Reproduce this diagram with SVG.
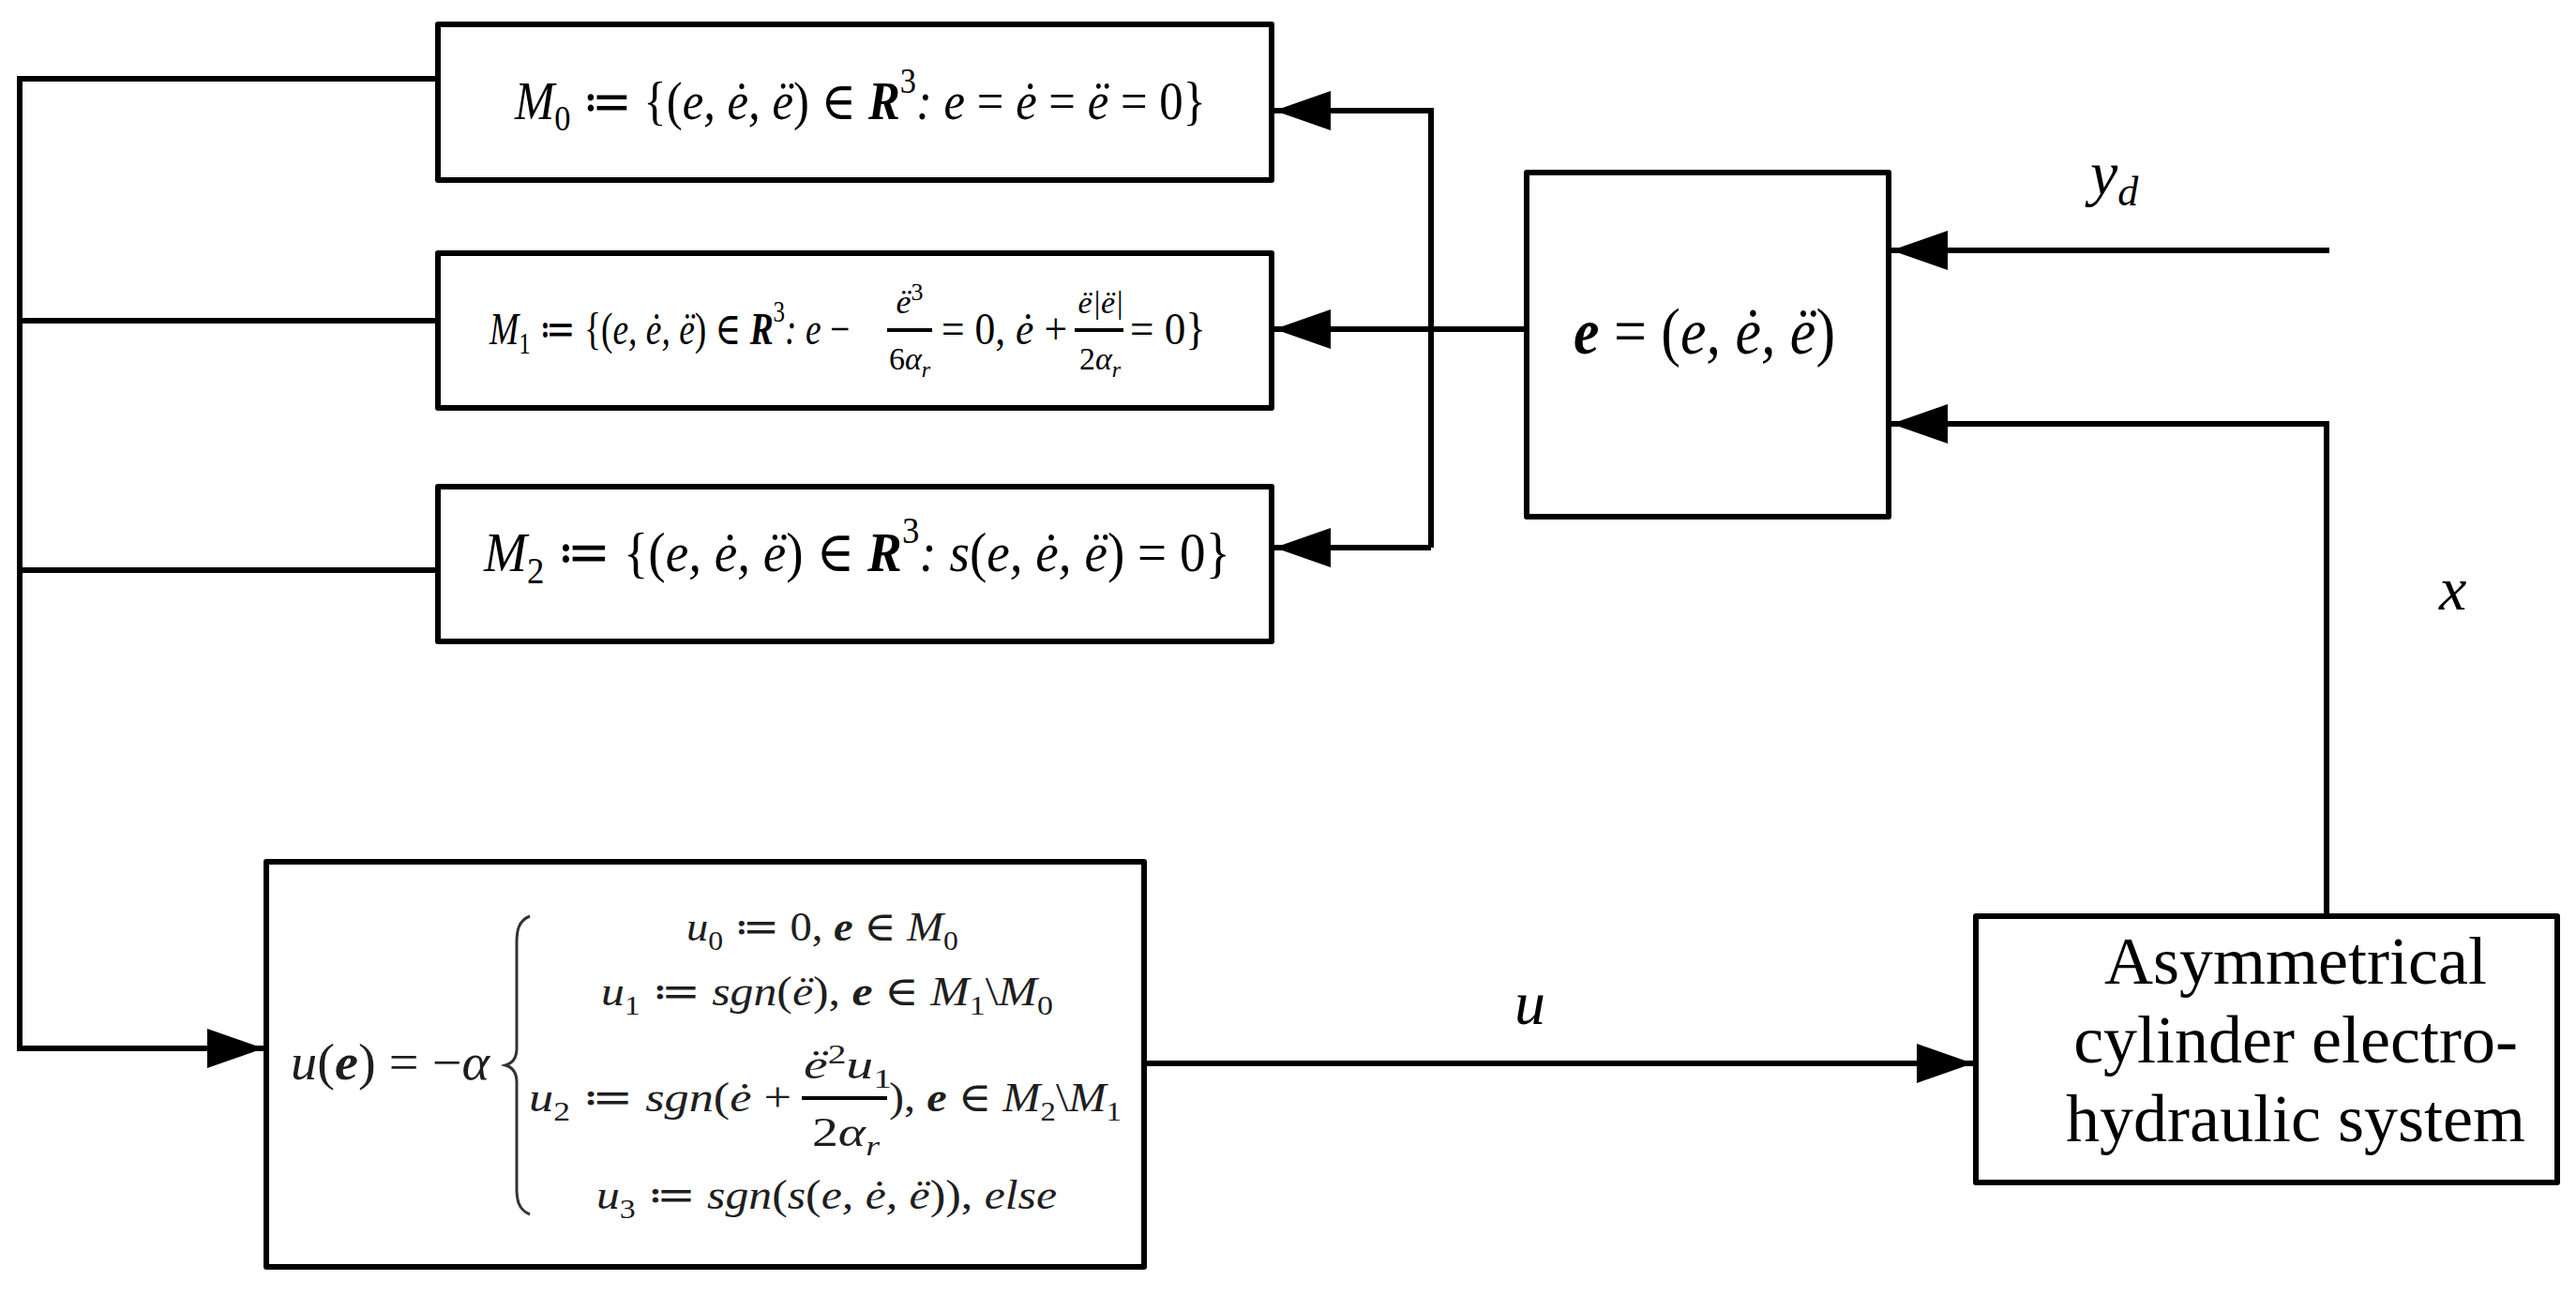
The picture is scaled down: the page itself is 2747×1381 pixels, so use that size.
<svg xmlns="http://www.w3.org/2000/svg" width="2747" height="1381" viewBox="0 0 2747 1381">
<defs>
<marker id="arr" markerUnits="userSpaceOnUse" markerWidth="60" markerHeight="42" refX="60" refY="21" orient="auto">
<path d="M0,0 L60,21 L0,42 Z" fill="#000"/>
</marker>
<style>
.box{fill:#fff;stroke:#000;stroke-width:6;stroke-linejoin:round}
.wire{fill:none;stroke:#000;stroke-width:6;stroke-linejoin:miter}
.bar{stroke:#000;stroke-width:4}
.math{font-family:"Liberation Serif","Times New Roman","DejaVu Serif",serif;font-style:italic;fill:#000}
.ctl{fill:#1e1e1e}
.up{font-style:normal}
.bf{font-weight:bold}
.lbl{font-family:"Liberation Serif","Times New Roman","DejaVu Serif",serif;font-style:italic;fill:#000;font-size:66px}
.plain{font-family:"Liberation Serif","Times New Roman","DejaVu Serif",serif;fill:#000;font-size:72px;text-anchor:middle}
</style>
</defs>
<rect width="2747" height="1381" fill="#fff"/>

<g id="connectors">
<path class="wire" d="M467,84 H21 V1118 H281" marker-end="url(#arr)"/>
<path class="wire" d="M467,342 H21"/>
<path class="wire" d="M467,608 H21"/>
<path class="wire" d="M1526,584 V118 H1359" marker-end="url(#arr)"/>
<path class="wire" d="M1526,584 H1359" marker-end="url(#arr)"/>
<path class="wire" d="M1628,351 H1359" marker-end="url(#arr)"/>
<path class="wire" d="M2484,267 H2017" marker-end="url(#arr)"/>
<path class="wire" d="M2481,977 V452 H2017" marker-end="url(#arr)"/>
<path class="wire" d="M1220,1134 H2104" marker-end="url(#arr)"/>
</g>

<g id="labels">
<text class="lbl" x="2229" y="207">y<tspan font-size="44" dy="12">d</tspan></text>
<text class="lbl" x="2601" y="650">x</text>
<text class="lbl" x="1615" y="1092">u</text>
</g>

<g id="node-M0">
<rect class="box" x="467" y="26" width="889" height="166"/>
<text class="math" x="549" y="127" font-size="56" textLength="737" lengthAdjust="spacingAndGlyphs">M<tspan class="up" font-size="38" dy="12">0</tspan><tspan dy="-12"> <tspan class="up">≔ {(</tspan>e, ė, ë<tspan class="up">) ∈ </tspan></tspan><tspan class="bf">R</tspan><tspan class="up" font-size="38" dy="-28">3</tspan><tspan dy="28">: e <tspan class="up">=</tspan> ė <tspan class="up">=</tspan> ë <tspan class="up">= 0}</tspan></tspan></text>
</g>

<g id="node-M1">
<rect class="box" x="467" y="270" width="889" height="165"/>
<text class="math" x="522" y="367" font-size="48" textLength="384" lengthAdjust="spacingAndGlyphs">M<tspan class="up" font-size="32" dy="10">1</tspan><tspan dy="-10"> <tspan class="up">≔ {(</tspan>e, ė, ë<tspan class="up">) ∈ </tspan></tspan><tspan class="bf">R</tspan><tspan class="up" font-size="32" dy="-24">3</tspan><tspan dy="24">: e <tspan class="up">−</tspan></tspan></text>
<text class="math" x="970" y="334" font-size="36" text-anchor="middle">ë<tspan class="up" font-size="26" dy="-14">3</tspan></text>
<line class="bar" x1="946" y1="352" x2="994" y2="352"/>
<text class="math" x="970" y="394" font-size="34" text-anchor="middle"><tspan class="up">6</tspan>α<tspan font-size="24" dy="8">r</tspan></text>
<text class="math" x="1004" y="367" font-size="48" textLength="134" lengthAdjust="spacingAndGlyphs"><tspan class="up">= 0,</tspan> ė <tspan class="up">+</tspan></text>
<text class="math" x="1174" y="334" font-size="34" text-anchor="middle">ë|ë|</text>
<line class="bar" x1="1146" y1="352" x2="1198" y2="352"/>
<text class="math" x="1173" y="394" font-size="34" text-anchor="middle"><tspan class="up">2</tspan>α<tspan font-size="24" dy="8">r</tspan></text>
<text class="math" x="1205" y="367" font-size="48" textLength="81" lengthAdjust="spacingAndGlyphs" style="font-style:normal">= 0}</text>
</g>

<g id="node-M2">
<rect class="box" x="467" y="519" width="889" height="165"/>
<text class="math" x="516" y="609" font-size="60" textLength="796" lengthAdjust="spacingAndGlyphs">M<tspan class="up" font-size="40" dy="13">2</tspan><tspan dy="-13"> <tspan class="up">≔ {(</tspan>e, ė, ë<tspan class="up">) ∈ </tspan></tspan><tspan class="bf">R</tspan><tspan class="up" font-size="40" dy="-30">3</tspan><tspan dy="30">: s<tspan class="up">(</tspan>e, ė, ë<tspan class="up">) = 0}</tspan></tspan></text>
</g>

<g id="node-error">
<rect class="box" x="1628" y="184" width="386" height="367"/>
<text class="math" x="1678" y="377" font-size="70" textLength="279" lengthAdjust="spacingAndGlyphs"><tspan class="bf">e</tspan> <tspan class="up">= (</tspan>e, ė, ë<tspan class="up">)</tspan></text>
</g>

<g id="node-controller">
<rect class="box" x="284" y="919" width="936" height="432"/>
<text class="math ctl" x="310" y="1151" font-size="54" textLength="212" lengthAdjust="spacingAndGlyphs">u<tspan class="up">(</tspan><tspan class="bf">e</tspan><tspan class="up">) = −</tspan>α</text>
<path d="M565,977 C553,982 551,992 551,1005 V1118 C551,1128 546,1134 539,1136 C546,1138 551,1144 551,1154 V1267 C551,1280 553,1290 565,1295" fill="none" stroke="#333" stroke-width="3"/>
<text class="math ctl" x="732" y="1003" font-size="44" textLength="290" lengthAdjust="spacingAndGlyphs">u<tspan class="up" font-size="30" dy="10">0</tspan><tspan dy="-10"> <tspan class="up">≔ 0,</tspan> <tspan class="bf">e</tspan> <tspan class="up">∈</tspan> M</tspan><tspan class="up" font-size="30" dy="10">0</tspan></text>
<text class="math ctl" x="641" y="1072" font-size="44" textLength="482" lengthAdjust="spacingAndGlyphs">u<tspan class="up" font-size="30" dy="10">1</tspan><tspan dy="-10"> <tspan class="up">≔</tspan> sgn<tspan class="up">(</tspan>ë<tspan class="up">),</tspan> <tspan class="bf">e</tspan> <tspan class="up">∈</tspan> M</tspan><tspan class="up" font-size="30" dy="10">1</tspan><tspan dy="-10" class="up">\</tspan>M<tspan class="up" font-size="30" dy="10">0</tspan></text>
<text class="math ctl" x="564" y="1185" font-size="44" textLength="280" lengthAdjust="spacingAndGlyphs">u<tspan class="up" font-size="30" dy="10">2</tspan><tspan dy="-10"> <tspan class="up">≔</tspan> sgn<tspan class="up">(</tspan>ė <tspan class="up">+</tspan></tspan></text>
<text class="math ctl" x="857" y="1150" font-size="44" textLength="94" lengthAdjust="spacingAndGlyphs">ë<tspan class="up" font-size="30" dy="-16">2</tspan><tspan dy="16">u</tspan><tspan class="up" font-size="30" dy="10">1</tspan></text>
<line class="bar" x1="855" y1="1171" x2="946" y2="1171"/>
<text class="math ctl" x="866" y="1222" font-size="44" textLength="72" lengthAdjust="spacingAndGlyphs"><tspan class="up">2</tspan>α<tspan font-size="30" dy="10">r</tspan></text>
<text class="math ctl" x="948" y="1185" font-size="44" textLength="248" lengthAdjust="spacingAndGlyphs"><tspan class="up">),</tspan> <tspan class="bf">e</tspan> <tspan class="up">∈</tspan> M<tspan class="up" font-size="30" dy="10">2</tspan><tspan dy="-10" class="up">\</tspan>M<tspan class="up" font-size="30" dy="10">1</tspan></text>
<text class="math ctl" x="636" y="1289" font-size="44" textLength="491" lengthAdjust="spacingAndGlyphs">u<tspan class="up" font-size="30" dy="10">3</tspan><tspan dy="-10"> <tspan class="up">≔</tspan> sgn<tspan class="up">(</tspan>s<tspan class="up">(</tspan>e, ė, ë<tspan class="up">)),</tspan> else</tspan></text>
</g>

<g id="node-plant">
<rect class="box" x="2107" y="977" width="620" height="284"/>
<text class="plain" x="2448" y="1049">Asymmetrical</text>
<text class="plain" x="2448" y="1133">cylinder electro-</text>
<text class="plain" x="2448" y="1217">hydraulic system</text>
</g>
</svg>
